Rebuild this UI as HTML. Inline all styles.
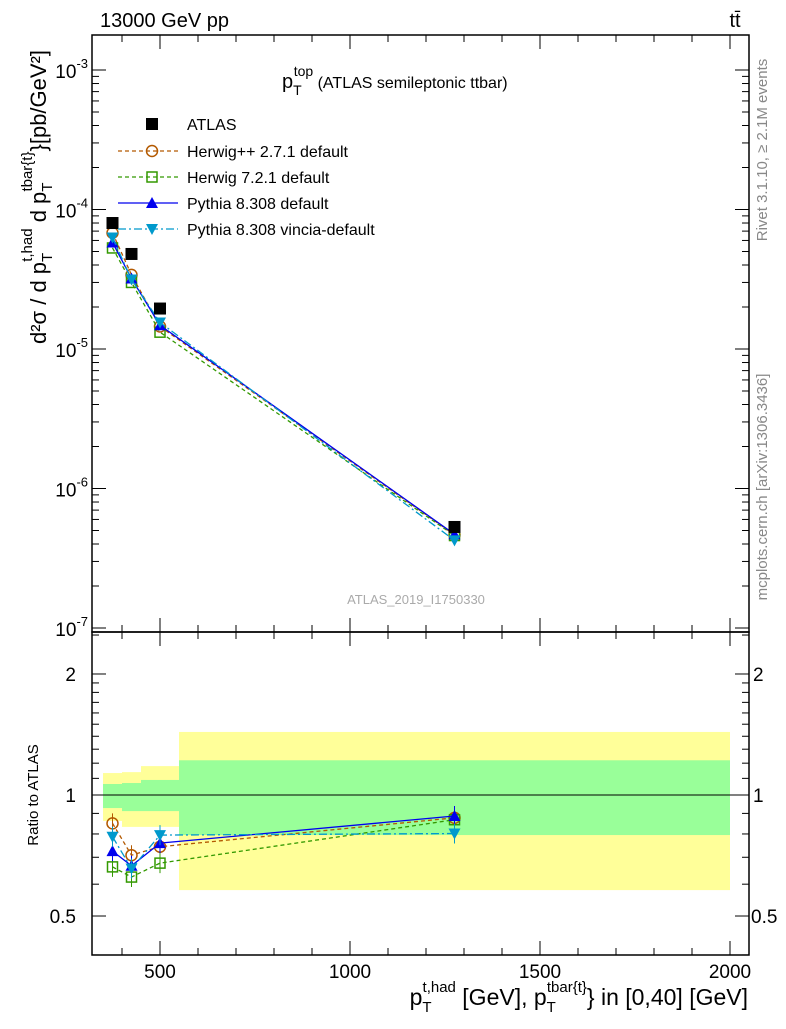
<!DOCTYPE html>
<html><head><meta charset="utf-8"><style>
body{margin:0;background:#fff}
svg{font-family:"Liberation Sans",sans-serif}
</style></head><body>
<svg id="c" width="786" height="1024" viewBox="0 0 786 1024">
<text x="100" y="27" font-size="20">13000 GeV pp</text>
<text x="735" y="27" font-size="20" text-anchor="middle">tt̄</text>
<text x="282" y="88" font-size="20">p<tspan font-size="14" dy="7">T</tspan><tspan font-size="14" dx="-8" dy="-19">top</tspan><tspan font-size="16" dy="12"> (ATLAS semileptonic ttbar)</tspan></text>
<text x="416" y="604" font-size="13" fill="#aaa" text-anchor="middle">ATLAS_2019_I1750330</text>
<text transform="translate(767,150) rotate(-90)" font-size="15" fill="#888" text-anchor="middle">Rivet 3.1.10, ≥ 2.1M events</text>
<text transform="translate(767,487) rotate(-90)" font-size="15" fill="#888" text-anchor="middle">mcplots.cern.ch [arXiv:1306.3436]</text>
<text transform="translate(46,197) rotate(-90)" font-size="22" text-anchor="middle">d²σ / d p<tspan font-size="15" dy="6">T</tspan><tspan font-size="15" dx="-9" dy="-20">t,had</tspan><tspan dy="14"> d p</tspan><tspan font-size="15" dy="6">T</tspan><tspan font-size="15" dx="-9" dy="-20">tbar{t}</tspan><tspan dy="14">}[pb/GeV²]</tspan></text>
<text transform="translate(38,795) rotate(-90)" font-size="15" text-anchor="middle">Ratio to ATLAS</text>
<text x="748" y="1005" font-size="23" text-anchor="end">p<tspan font-size="15" dy="7">T</tspan><tspan font-size="15" dx="-9" dy="-20">t,had</tspan><tspan dy="13"> [GeV], p</tspan><tspan font-size="15" dy="7">T</tspan><tspan font-size="15" dx="-9" dy="-20">tbar{t}</tspan><tspan dy="13">} in [0,40] [GeV]</tspan></text>
<g id="g"></g>
</svg>
<script>
const xCenters=[375,425,500,1275];
const xLow=[350,400,450,550], xHigh=[400,450,550,2000];
const atlas=[8.0e-5,4.8e-5,1.95e-5,5.3e-7];
const herwigpp=[6.8e-5,3.4e-5,1.45e-5,4.65e-7];
const herwig7=[5.3e-5,3.0e-5,1.32e-5,4.6e-7];
const pythia=[5.8e-5,3.2e-5,1.48e-5,4.7e-7];
const vincia=[6.3e-5,3.15e-5,1.55e-5,4.25e-7];
const yellowHi=[1.134,1.14,1.18,1.435], yellowLo=[0.862,0.833,0.833,0.58];
const greenHi=[1.065,1.071,1.09,1.22], greenLo=[0.928,0.912,0.912,0.795];
const xTicks=[500,1000,1500,2000];
const X=v=>-30+0.38*v;
const Y=v=>70+139.5*(-Math.log10(v)-3);
const R=v=>795-402*Math.log10(v);
const L=92,Rt=749,T=35,M=632,B=955;
const g=document.getElementById('g');
const NS='http://www.w3.org/2000/svg';
function el(t,a,p){const e=document.createElementNS(NS,t);for(const k in a)e.setAttribute(k,a[k]);(p||g).appendChild(e);return e;}
for(let i=0;i<4;i++){
 const b=el('rect',{x:X(xLow[i]),y:R(yellowHi[i]),width:X(xHigh[i])-X(xLow[i]),height:R(yellowLo[i])-R(yellowHi[i]),fill:'#ffff99'});
 
 
 const c=el('rect',{x:X(xLow[i]),y:R(greenHi[i]),width:X(xHigh[i])-X(xLow[i]),height:R(greenLo[i])-R(greenHi[i]),fill:'#99ff99'});
 
 
}
el('line',{x1:L,x2:Rt,y1:R(1),y2:R(1),stroke:'#000','stroke-width':1});
el('rect',{x:L,y:T,width:Rt-L,height:M-T,fill:'none',stroke:'#000','stroke-width':1.5});
el('rect',{x:L,y:M,width:Rt-L,height:B-M,fill:'none',stroke:'#000','stroke-width':1.5});
for(let d=-7;d<=-3;d++){
 const y=Y(Math.pow(10,d));
 el('line',{x1:L,x2:L+14,y1:y,y2:y,stroke:'#000'});el('line',{x1:Rt-14,x2:Rt,y1:y,y2:y,stroke:'#000'});
 const t=el('text',{x:L-4,y:y+8,'font-size':19,'text-anchor':'end'});t.innerHTML='10<tspan font-size="13" dy="-10">'+d+'</tspan>';
 
 
 for(let m=2;m<10;m++){const v=m*Math.pow(10,d);const yy=Y(v);if(yy<T)continue;
  el('line',{x1:L,x2:L+7,y1:yy,y2:yy,stroke:'#000'});el('line',{x1:Rt-7,x2:Rt,y1:yy,y2:yy,stroke:'#000'});}
}
[0.5,1,2].forEach(v=>{const y=R(v);
 el('line',{x1:L,x2:L+14,y1:y,y2:y,stroke:'#000'});el('line',{x1:Rt-14,x2:Rt,y1:y,y2:y,stroke:'#000'});
 const s=String(v);
 const t=el('text',{x:L-16,y:y+7,'font-size':19,'text-anchor':'end'});t.textContent=s;
 
 
 const t2=el('text',{x:v===0.5?Rt+2:Rt+4,y:y+7,'font-size':19});t2.textContent=s;
 
 });
[0.4,0.6,0.7,0.8,0.9,1.1,1.2,1.3,1.4,1.5,1.6,1.7,1.8,1.9,2.5].forEach(v=>{const y=R(v);if(y<M||y>B)return;
 el('line',{x1:L,x2:L+7,y1:y,y2:y,stroke:'#000'});el('line',{x1:Rt-7,x2:Rt,y1:y,y2:y,stroke:'#000'});});
for(let v=400;v<=2000;v+=100){const x=X(v);const big=v%500===0;const h=big?14:7;
 [T,M].forEach(y0=>el('line',{x1:x,x2:x,y1:y0,y2:y0+h,stroke:'#000'}));
 [M,B].forEach(y0=>el('line',{x1:x,x2:x,y1:y0-h,y2:y0,stroke:'#000'}));}
xTicks.forEach(v=>{const t=el('text',{x:X(v),y:978,'font-size':19,'text-anchor':'middle'});t.textContent=v;
 
 });
function mk(type,x,y,col){
 if(type==='sq')el('rect',{x:x-6,y:y-6,width:12,height:12,fill:'#000'});
 if(type==='osq')el('rect',{x:x-5,y:y-5,width:10,height:10,fill:'none',stroke:col,'stroke-width':1.5});
 if(type==='oc')el('circle',{cx:x,cy:y,r:5.5,fill:'none',stroke:col,'stroke-width':1.5});
 if(type==='tu')el('path',{d:`M${x-6},${y+5}L${x+6},${y+5}L${x},${y-6}Z`,fill:col});
 if(type==='td')el('path',{d:`M${x-6},${y-5}L${x+6},${y-5}L${x},${y+6}Z`,fill:col});
}
const series=[
 {n:'herwigpp',d:herwigpp,c:'#b35900',m:'oc',dash:'4,3',lab:'Herwig++ 2.7.1 default'},
 {n:'herwig7',d:herwig7,c:'#339900',m:'osq',dash:'4,3',lab:'Herwig 7.2.1 default'},
 {n:'pythia',d:pythia,c:'#0000ee',m:'tu',dash:'',lab:'Pythia 8.308 default'},
 {n:'vincia',d:vincia,c:'#0099cc',m:'td',dash:'8,3,2,3',lab:'Pythia 8.308 vincia-default'}];
series.forEach(s=>{
 const p1=el('polyline',{points:xCenters.map((x,i)=>X(x)+','+Y(s.d[i])).join(' '),fill:'none',stroke:s.c,'stroke-width':1.3,'stroke-dasharray':s.dash});
 
 
 const p2=el('polyline',{points:xCenters.map((x,i)=>X(x)+','+R(s.d[i]/atlas[i])).join(' '),fill:'none',stroke:s.c,'stroke-width':1.3,'stroke-dasharray':s.dash});
 
 
 xCenters.forEach((x,i)=>{mk(s.m,X(x),Y(s.d[i]),s.c);const r=R(s.d[i]/atlas[i]);
  el('line',{x1:X(x),x2:X(x),y1:r-10,y2:r+10,stroke:s.c});mk(s.m,X(x),r,s.c);});
});
xCenters.forEach((x,i)=>mk('sq',X(x),Y(atlas[i])));
const ly=[124,151,177,203,229];
mk('sq',152,ly[0]);
let t=el('text',{x:187,y:ly[0]+6,'font-size':16});t.textContent='ATLAS';


series.forEach((s,i)=>{const y=ly[i+1];
 el('line',{x1:118,x2:178,y1:y,y2:y,stroke:s.c,'stroke-width':1.3,'stroke-dasharray':s.dash});mk(s.m,152,y,s.c);
 const tt=el('text',{x:187,y:y+6,'font-size':16});tt.textContent=s.lab;
 
 });
</script>
</body></html>
